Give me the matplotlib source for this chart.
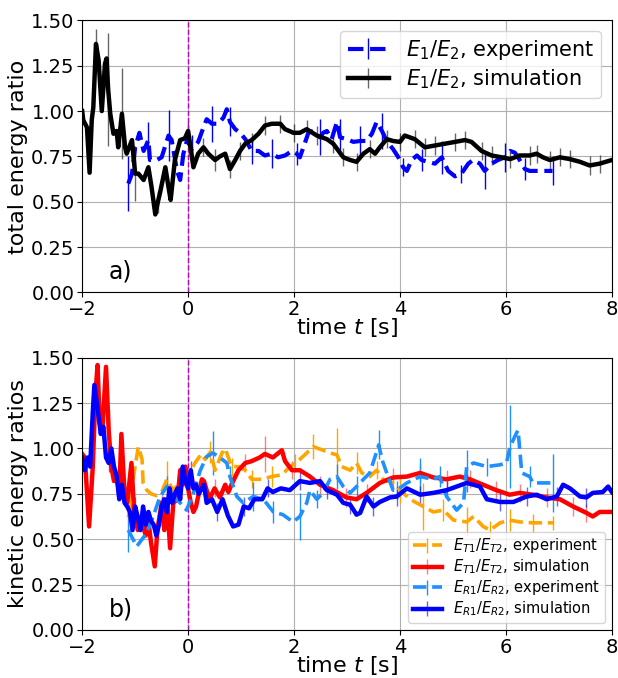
import numpy as np
import matplotlib.pyplot as plt
from matplotlib.colors import to_rgba

# ---- total energy ratio E1/E2 ----
tot_sim_t = [-2.0, -1.98, -1.91, -1.86, -1.82, -1.79, -1.74, -1.69, -1.63, -1.57, -1.54, -1.51,
             -1.47, -1.41, -1.35, -1.32, -1.25, -1.19, -1.16, -1.06, -1.0, -0.94, -0.84, -0.75,
             -0.69, -0.62, -0.57, -0.53, -0.43, -0.37, -0.33, -0.25, -0.15, -0.06, 0.0, 0.07,
             0.1, 0.19, 0.29, 0.38, 0.51, 0.6, 0.7, 0.79, 0.89, 0.98, 1.08, 1.2, 1.33, 1.45,
             1.58, 1.74, 1.83, 1.99, 2.11, 2.24, 2.43, 2.62, 2.74, 2.93, 3.06, 3.18, 3.31, 3.43,
             3.53, 3.62, 3.75, 3.87, 4.0, 4.09, 4.28, 4.47, 4.66, 4.85, 5.04, 5.23, 5.35, 5.54,
             5.73, 5.92, 6.08, 6.26, 6.45, 6.58, 6.7, 6.83, 7.02, 7.21, 7.4, 7.58, 7.77, 8.0]
tot_sim = [1.0, 0.95, 0.91, 0.66, 0.95, 1.02, 1.37, 1.28, 1.0, 1.26, 1.29, 1.12,
           0.985, 0.875, 0.89, 0.80, 0.985, 0.80, 0.765, 0.84, 0.655, 0.655, 0.62, 0.69,
           0.58, 0.43, 0.50, 0.55, 0.69, 0.58, 0.51, 0.73, 0.84, 0.85, 0.89, 0.75,
           0.69, 0.765, 0.80, 0.765, 0.73, 0.75, 0.765, 0.68, 0.73, 0.78, 0.82, 0.84, 0.875, 0.92,
           0.93, 0.93, 0.90, 0.88, 0.88, 0.90, 0.865, 0.845, 0.82, 0.745, 0.73, 0.72, 0.765, 0.79,
           0.765, 0.80, 0.845, 0.835, 0.83, 0.865, 0.845, 0.80, 0.81, 0.82, 0.83, 0.84, 0.83, 0.78,
           0.755, 0.745, 0.735, 0.755, 0.755, 0.765, 0.745, 0.73, 0.745, 0.735, 0.72, 0.70, 0.71, 0.73]
tot_sim_err_t = [-1.74, -1.51, -1.25, -1.0, -0.57, 0.0, 0.29, 0.51, 0.79, 0.98, 1.2, 1.45, 1.74,
                 1.99, 2.24, 2.43, 2.74, 2.93, 3.18, 3.43, 3.75, 4.0, 4.28, 4.47, 4.66, 5.04,
                 5.23, 5.54, 5.73, 6.08, 6.45, 6.58, 6.83, 7.02, 7.21, 7.58, 7.77]
tot_sim_err = [0.08, 0.31, 0.25, 0.15, 0.06, 0.05, 0.05, 0.06, 0.05, 0.05, 0.04, 0.05, 0.05,
               0.05, 0.05, 0.05, 0.05, 0.05, 0.05, 0.05, 0.05, 0.05, 0.05, 0.05, 0.05, 0.05,
               0.05, 0.05, 0.05, 0.05, 0.05, 0.05, 0.05, 0.05, 0.05, 0.05, 0.05]

tot_exp_t = [-1.13, -1.06, -1.0, -0.92, -0.84, -0.75, -0.72, -0.59, -0.5, -0.37, -0.31, -0.21,
             -0.15, -0.09, -0.02, 0.07, 0.19, 0.29, 0.35, 0.45, 0.57, 0.67, 0.73, 0.79, 0.89,
             0.98, 1.08, 1.2, 1.33, 1.45, 1.58, 1.7, 1.83, 1.96, 2.05, 2.11, 2.2, 2.27, 2.36,
             2.49, 2.55, 2.62, 2.71, 2.81, 2.87, 3.0, 3.12, 3.25, 3.37, 3.47, 3.56, 3.66, 3.75,
             3.87, 3.97, 4.06, 4.13, 4.22, 4.32, 4.41, 4.53, 4.66, 4.79, 4.91, 5.04, 5.16, 5.29,
             5.38, 5.51, 5.6, 5.73, 5.85, 5.98, 6.08, 6.17, 6.23, 6.3, 6.36, 6.45, 6.88]
tot_exp = [0.60, 0.655, 0.80, 0.88, 0.78, 0.84, 0.73, 0.73, 0.745, 0.865, 0.84, 0.67,
           0.62, 0.765, 0.84, 0.79, 0.83, 0.91, 0.955, 0.93, 0.93, 0.965, 1.01, 0.94, 0.90,
           0.88, 0.845, 0.78, 0.78, 0.755, 0.765, 0.745, 0.755, 0.78, 0.765, 0.745, 0.82, 0.88, 0.89,
           0.855, 0.88, 0.89, 0.845, 0.94, 0.855, 0.845, 0.83, 0.835, 0.835, 0.875, 0.94, 0.89, 0.835,
           0.79, 0.745, 0.69, 0.67, 0.73, 0.755, 0.73, 0.72, 0.71, 0.745, 0.67, 0.64, 0.655, 0.71,
           0.73, 0.71, 0.67, 0.71, 0.73, 0.745, 0.78, 0.77, 0.745, 0.71, 0.68, 0.67, 0.67]
tot_exp_err_t = [-1.13, -0.75, -0.37, 0.07, 0.45, 0.79, 1.2, 1.58, 2.05, 2.49, 2.87, 3.25,
                 3.66, 4.06, 4.41, 4.79, 5.16, 5.6, 5.98, 6.36, 6.88]
tot_exp_err = [0.15, 0.10, 0.14, 0.08, 0.10, 0.08, 0.07, 0.08, 0.06, 0.10, 0.10, 0.08,
               0.10, 0.05, 0.06, 0.09, 0.05, 0.10, 0.08, 0.06, 0.08]

# ---- kinetic energy ratios ----
trans_sim_t = [-2.0, -1.95, -1.87, -1.8, -1.75, -1.71, -1.67, -1.62, -1.55, -1.5, -1.45, -1.4,
               -1.35, -1.3, -1.26, -1.2, -1.15, -1.07, -1.02, -0.95, -0.88, -0.8, -0.75, -0.7,
               -0.63, -0.58, -0.5, -0.45, -0.4, -0.34, -0.28, -0.2, -0.15, -0.1, -0.05, 0.0,
               0.05, 0.1, 0.15, 0.2, 0.26, 0.3, 0.4, 0.5, 0.6, 0.7, 0.76, 0.85, 0.95, 1.08,
               1.2, 1.35, 1.45, 1.6, 1.77, 1.83, 1.96, 2.11, 2.3, 2.49, 2.74, 2.99, 3.18, 3.37,
               3.62, 3.87, 4.13, 4.38, 4.63, 4.88, 5.13, 5.32, 5.57, 5.82, 6.07, 6.26, 6.51, 6.77,
               7.02, 7.27, 7.52, 7.64, 7.77, 8.0]
trans_sim = [0.97, 0.95, 0.57, 0.9, 1.3, 1.46, 1.15, 1.10, 1.45, 1.1, 0.9, 0.82,
             0.85, 0.75, 1.08, 0.75, 0.70, 0.92, 0.65, 0.55, 0.60, 0.52, 0.60, 0.48,
             0.35, 0.55, 0.70, 0.55, 0.72, 0.45, 0.70, 0.72, 0.88, 0.80, 0.90, 0.78,
             0.70, 0.65, 0.68, 0.75, 0.83, 0.82, 0.72, 0.78, 0.73, 0.80, 0.76, 0.82, 0.88, 0.92,
             0.93, 0.95, 0.97, 0.95, 0.99, 0.93, 0.88, 0.88, 0.845, 0.80, 0.77, 0.73, 0.72, 0.755,
             0.81, 0.84, 0.845, 0.865, 0.84, 0.83, 0.845, 0.83, 0.80, 0.77, 0.745, 0.755, 0.745, 0.73,
             0.72, 0.68, 0.645, 0.625, 0.65, 0.65]
trans_sim_err_t = [-1.5, -1.0, -0.5, 0.0, 0.5, 1.08, 1.45, 1.96, 2.49, 2.99, 3.37, 3.87,
                   4.38, 4.88, 5.32, 5.82, 6.26, 6.77, 7.27, 7.52]
trans_sim_err = [0.12, 0.05, 0.05, 0.05, 0.05, 0.05, 0.10, 0.05, 0.05, 0.05, 0.05, 0.05,
                 0.05, 0.05, 0.05, 0.05, 0.05, 0.05, 0.05, 0.05]

trans_exp_t = [-1.13, -1.09, -1.04, -0.94, -0.87, -0.85, -0.78, -0.7, -0.6, -0.5, -0.4, -0.28,
               -0.09, 0.0, 0.13, 0.25, 0.32, 0.42, 0.51, 0.64, 0.70, 0.82, 0.95, 1.08, 1.2,
               1.39, 1.58, 1.77, 1.89, 2.02, 2.11, 2.24, 2.36, 2.55, 2.68, 2.81, 2.9, 3.06, 3.18,
               3.28, 3.43, 3.56, 3.68, 3.87, 4.0, 4.19, 4.44, 4.63, 4.82, 5.01, 5.26, 5.39, 5.57,
               5.7, 5.89, 6.07, 6.26, 6.51, 6.89]
trans_exp = [0.62, 0.68, 0.83, 1.01, 0.94, 0.81, 0.77, 0.75, 0.74, 0.76, 0.83, 0.77,
             0.83, 0.85, 0.92, 0.97, 0.94, 0.98, 0.88, 0.975, 1.0, 0.90, 0.90, 0.88, 0.83,
             0.83, 0.845, 0.855, 0.89, 0.92, 0.94, 0.975, 1.01, 0.99, 0.975, 0.965, 0.90, 0.88, 0.92,
             0.865, 0.845, 0.88, 0.83, 0.81, 0.77, 0.72, 0.68, 0.65, 0.66, 0.605, 0.595, 0.625, 0.57,
             0.55, 0.59, 0.605, 0.595, 0.59, 0.59]
trans_exp_err_t = [-1.09, -0.4, 0.42, 0.82, 1.2, 1.58, 2.02, 2.36, 2.81, 3.18, 3.56, 4.0,
                   4.44, 4.82, 5.26, 5.7, 6.07, 6.51, 6.89]
trans_exp_err = [0.08, 0.10, 0.06, 0.05, 0.05, 0.06, 0.05, 0.07, 0.15, 0.06, 0.05, 0.07,
                 0.13, 0.06, 0.08, 0.05, 0.06, 0.05, 0.04]

rot_sim_t = [-2.0, -1.95, -1.9, -1.85, -1.8, -1.77, -1.7, -1.65, -1.6, -1.55, -1.5, -1.45,
             -1.4, -1.35, -1.3, -1.25, -1.2, -1.15, -1.1, -1.05, -1.0, -0.95, -0.9, -0.85,
             -0.8, -0.75, -0.7, -0.65, -0.6, -0.55, -0.5, -0.45, -0.4, -0.35, -0.3, -0.25,
             -0.2, -0.15, -0.1, -0.05, 0.0, 0.05, 0.1, 0.15, 0.2, 0.3, 0.35, 0.45, 0.55, 0.65,
             0.75, 0.85, 0.95, 1.05, 1.15, 1.25, 1.4, 1.5, 1.6, 1.75, 1.92, 2.11, 2.3, 2.49,
             2.62, 2.81, 2.93, 3.06, 3.18, 3.25, 3.37, 3.5, 3.62, 3.81, 3.94, 4.13, 4.38, 4.63,
             4.88, 5.07, 5.26, 5.51, 5.64, 5.89, 6.14, 6.39, 6.58, 6.77, 6.96, 7.08, 7.21, 7.4,
             7.52, 7.64, 7.83, 7.93, 8.0]
rot_sim = [0.95, 0.88, 0.95, 0.90, 1.2, 1.35, 1.2, 1.08, 1.12, 0.95, 0.92, 1.0,
           0.9, 0.85, 0.72, 0.80, 0.70, 0.68, 0.65, 0.55, 0.68, 0.62, 0.55, 0.68,
           0.58, 0.65, 0.60, 0.58, 0.52, 0.58, 0.68, 0.72, 0.65, 0.78, 0.70, 0.75,
           0.78, 0.72, 0.90, 0.82, 0.78, 0.88, 0.78, 0.80, 0.75, 0.80, 0.70, 0.72, 0.65, 0.72,
           0.63, 0.57, 0.58, 0.68, 0.67, 0.72, 0.72, 0.78, 0.76, 0.78, 0.77, 0.82, 0.81, 0.82,
           0.77, 0.745, 0.70, 0.69, 0.635, 0.645, 0.735, 0.68, 0.705, 0.73, 0.735, 0.78, 0.745, 0.755,
           0.77, 0.79, 0.81, 0.79, 0.72, 0.705, 0.705, 0.735, 0.745, 0.72, 0.735, 0.80, 0.78, 0.735,
           0.73, 0.755, 0.76, 0.79, 0.76]
rot_sim_err_t = [-1.5, -1.0, -0.5, 0.05, 0.55, 1.05, 1.5, 2.11, 2.62, 3.06, 3.5, 3.94,
                 4.38, 4.88, 5.26, 5.89, 6.39, 6.96, 7.52]
rot_sim_err = [0.05, 0.05, 0.05, 0.05, 0.05, 0.05, 0.05, 0.05, 0.05, 0.05, 0.05, 0.05,
               0.05, 0.05, 0.05, 0.05, 0.05, 0.05, 0.05]

rot_exp_t = [-1.13, -0.97, -0.78, -0.66, -0.53, -0.4, -0.28, -0.15, -0.03, 0.1, 0.23, 0.35,
             0.47, 0.6, 0.73, 0.79, 0.92, 1.04, 1.23, 1.42, 1.61, 1.79, 1.98, 2.11, 2.24, 2.3,
             2.43, 2.55, 2.68, 2.81, 2.93, 3.06, 3.18, 3.31, 3.43, 3.53, 3.6, 3.66, 3.75, 3.87,
             3.94, 4.13, 4.38, 4.63, 4.75, 4.88, 5.07, 5.2, 5.26, 5.39, 5.64, 5.89, 6.01, 6.08,
             6.2, 6.23, 6.3, 6.45, 6.51, 6.89]
rot_exp = [0.55, 0.46, 0.535, 0.625, 0.735, 0.79, 0.735, 0.70, 0.66, 0.755, 0.88, 0.955,
           0.975, 0.95, 0.92, 0.845, 0.735, 0.70, 0.735, 0.72, 0.65, 0.635, 0.595, 0.625, 0.70, 0.77,
           0.72, 0.755, 0.83, 0.845, 0.79, 0.755, 0.79, 0.83, 0.865, 0.955, 1.02, 0.94, 0.865, 0.77,
           0.77, 0.81, 0.845, 0.83, 0.845, 0.735, 0.66, 0.70, 0.90, 0.92, 0.90, 0.91, 0.92, 1.01,
           1.085, 1.10, 0.865, 0.845, 0.81, 0.81]
rot_exp_err_t = [-1.13, -0.4, 0.47, 0.79, 1.23, 1.61, 2.11, 2.43, 2.81, 3.18, 3.6, 3.94,
                 4.38, 4.75, 5.26, 5.64, 6.08, 6.45, 6.89]
rot_exp_err = [0.12, 0.06, 0.12, 0.06, 0.08, 0.06, 0.13, 0.05, 0.07, 0.06, 0.08, 0.05,
               0.10, 0.06, 0.09, 0.05, 0.23, 0.06, 0.16]


def draw(ax, t, y, err_t, err, color, ls, lw, label, ecolor=None):
    t = np.asarray(t)
    y = np.asarray(y)
    # put the error bars on the samples closest to the requested times
    idx = np.abs(t[:, None] - np.asarray(err_t)[None, :]).argmin(axis=0)
    yerr = np.zeros_like(y)
    yerr[idx] = err
    mask = np.zeros(len(t), dtype=bool)
    mask[idx] = True
    return ax.errorbar(t, y, yerr=yerr, errorevery=mask, color=color, ls=ls, lw=lw,
                       ecolor=ecolor if ecolor is not None else color, elinewidth=1.0,
                       label=label)


plt.rcParams['font.size'] = 14

fig, (ax1, ax2) = plt.subplots(2, 1, figsize=(6.18, 6.78), dpi=100)
fig.subplots_adjust(left=0.133, right=0.990, top=0.970, bottom=0.071, hspace=0.24)

draw(ax1, tot_exp_t, tot_exp, tot_exp_err_t, tot_exp_err, 'blue', '--', 3.0,
     r'$E_1/E_2$, experiment')
draw(ax1, tot_sim_t, tot_sim, tot_sim_err_t, tot_sim_err, 'black', '-', 3.2,
     r'$E_1/E_2$, simulation', ecolor=to_rgba('black', 0.6))
ax1.set_ylabel('total energy ratio', fontsize=16, labelpad=2)
ax1.legend(loc='upper right', fontsize=15, labelspacing=0.25, borderpad=0.35)
ax1.text(0.05, 0.05, 'a)', transform=ax1.transAxes, fontsize=17)

draw(ax2, trans_exp_t, trans_exp, trans_exp_err_t, trans_exp_err, 'orange', '--', 2.6,
     r'$E_{T1}/E_{T2}$, experiment')
draw(ax2, trans_sim_t, trans_sim, trans_sim_err_t, trans_sim_err, 'red', '-', 3.2,
     r'$E_{T1}/E_{T2}$, simulation', ecolor=to_rgba('red', 0.5))
draw(ax2, rot_exp_t, rot_exp, rot_exp_err_t, rot_exp_err, 'dodgerblue', '--', 2.6,
     r'$E_{R1}/E_{R2}$, experiment')
draw(ax2, rot_sim_t, rot_sim, rot_sim_err_t, rot_sim_err, 'blue', '-', 3.2,
     r'$E_{R1}/E_{R2}$, simulation', ecolor=to_rgba('blue', 0.6))
ax2.set_ylabel('kinetic energy ratios', fontsize=16, labelpad=2)
ax2.legend(loc='lower right', fontsize=10.5, labelspacing=0.15, borderpad=0.3,
           handleheight=0.6)
ax2.text(0.05, 0.05, 'b)', transform=ax2.transAxes, fontsize=17)

for ax in (ax1, ax2):
    ax.axvline(0, color='m', ls='--', lw=1)
    ax.set_xlim(-2, 8)
    ax.set_ylim(0, 1.5)
    ax.set_yticks([0, 0.25, 0.5, 0.75, 1.0, 1.25, 1.5])
    ax.set_xlabel('time $t$ [s]', fontsize=16, labelpad=-2)
    ax.grid(True)
    ax.tick_params(labelsize=14, pad=2)

plt.savefig('out.png')
